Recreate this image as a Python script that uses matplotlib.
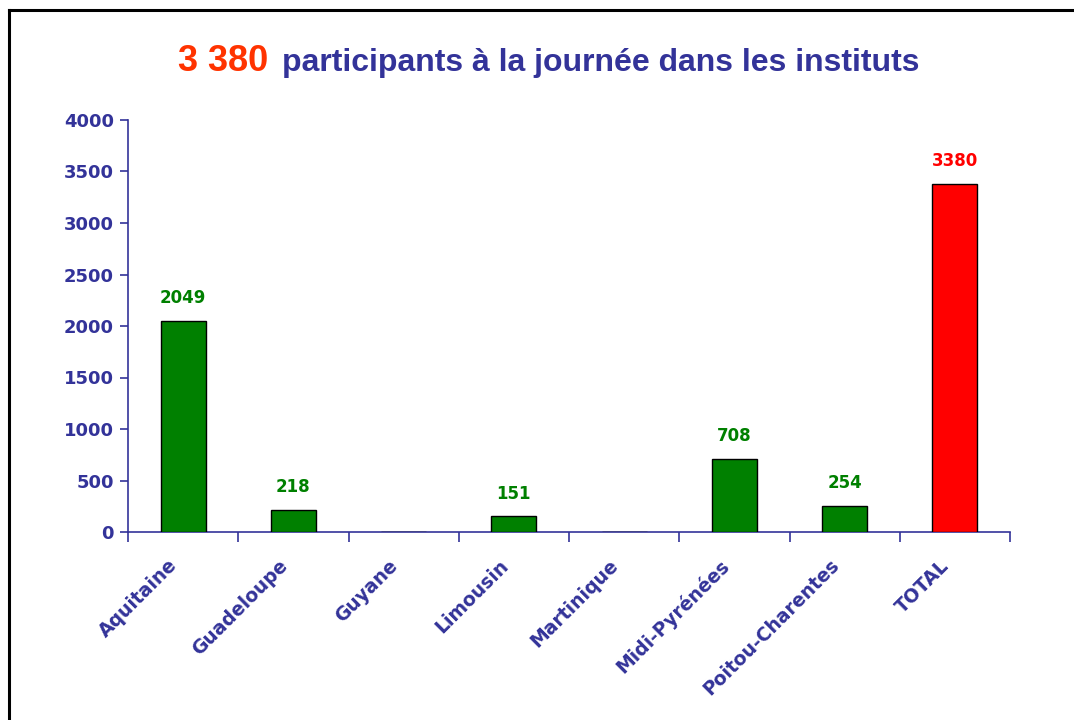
import numpy as np
import matplotlib.pyplot as plt
import matplotlib.transforms as mtransforms
from matplotlib.lines import Line2D

# data
regions = ['Aquitaine', 'Guadeloupe', 'Guyane', 'Limousin', 'Martinique',
           'Midi-Pyrénées', 'Poitou-Charentes', 'TOTAL']
participants = [2049, 218, 0, 151, 0, 708, 254, 3380]
bar_colors = ['#008000'] * 7 + ['#FF0000']
yticks = [0, 500, 1000, 1500, 2000, 2500, 3000, 3500, 4000]

NAVY = '#333399'
SMALL = ['DejaVu Sans']   # wide glyphs, like the stretched labels of the slide


def main():
    plt.rcParams['font.family'] = ['Liberation Sans', 'DejaVu Sans']
    plt.rcParams['font.weight'] = 'bold'

    fig = plt.figure(figsize=(10.74, 7.2), dpi=100)
    fig.patch.set_facecolor('white')

    # slide frame (left + top edges)
    fig.add_artist(Line2D([9 / 1074, 9 / 1074], [0, 1 - 10 / 720],
                          color='black', lw=2.2, transform=fig.transFigure))
    fig.add_artist(Line2D([9 / 1074, 1], [1 - 10 / 720, 1 - 10 / 720],
                          color='black', lw=2.2, transform=fig.transFigure))

    ax = fig.add_axes([128 / 1074, 188 / 720, 882 / 1074, 412 / 720])

    x = np.arange(len(regions)) + 0.5
    ax.bar(x, participants, width=0.41, color=bar_colors,
           edgecolor='black', linewidth=1.0, zorder=3)

    for xi, v, c in zip(x, participants, bar_colors):
        if v == 0:
            continue
        ax.annotate(str(v), (xi, v), xytext=(0, 10), textcoords='offset points',
                    ha='center', va='bottom', color=c, fontsize=12,
                    fontweight='bold', family=SMALL)

    ax.set_xlim(0, len(regions))
    ax.set_ylim(0, 4000)
    ax.set_yticks(yticks)
    ax.set_yticklabels([str(t) for t in yticks], family=SMALL)

    ax.set_xticks(x)
    ax.set_xticklabels(regions, rotation=45, ha='right', va='center',
                       rotation_mode='anchor', family=SMALL)
    ax.set_xticks(np.arange(len(regions) + 1), minor=True)
    ax.tick_params(axis='x', which='major', length=0, pad=21,
                   labelsize=13.5, labelcolor=NAVY)
    ax.tick_params(axis='x', which='minor', length=7, width=1.2, color=NAVY,
                   direction='out')
    ax.tick_params(axis='y', length=6, width=1.2, color=NAVY, pad=4,
                   labelsize=13, labelcolor=NAVY)

    # nudge the slanted labels a little to the left
    shift = mtransforms.ScaledTranslation(-6 / 72, -1 / 72, fig.dpi_scale_trans)
    for lbl in ax.get_xticklabels():
        lbl.set_transform(lbl.get_transform() + shift)

    for s in ['top', 'right']:
        ax.spines[s].set_visible(False)
    for s in ['left', 'bottom']:
        ax.spines[s].set_color(NAVY)
        ax.spines[s].set_linewidth(1.2)

    # title in two colours
    fig.text(178 / 1074, 1 - 71 / 720, '3 380', color='#FF3300',
             fontsize=26, fontweight='bold', ha='left', va='baseline')
    fig.text(282 / 1074, 1 - 71 / 720,
             'participants à la journée dans les instituts', color=NAVY,
             fontsize=23, fontweight='bold', ha='left', va='baseline')

    fig.savefig('out.png', dpi=100)


if __name__ == "__main__":
    main()
